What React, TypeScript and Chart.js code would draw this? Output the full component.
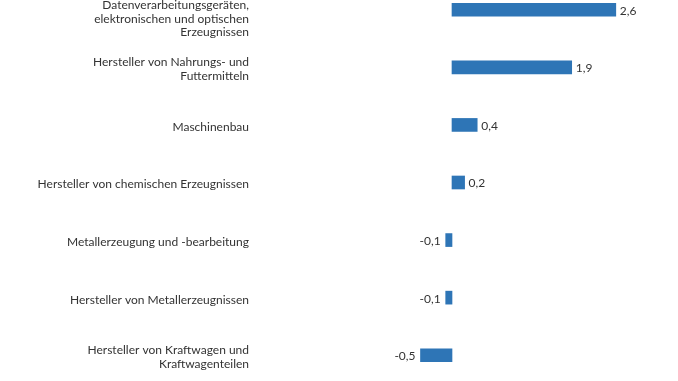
import React, { useEffect, useRef } from "react";
import { Chart, registerables } from "chart.js";

Chart.register(...registerables);

const categories: string[][] = [
  ["Hersteller von", "Datenverarbeitungsgeräten,", "elektronischen und optischen", "Erzeugnissen"],
  ["Hersteller von Nahrungs- und", "Futtermitteln"],
  ["Maschinenbau"],
  ["Hersteller von chemischen Erzeugnissen"],
  ["Metallerzeugung und -bearbeitung"],
  ["Hersteller von Metallerzeugnissen"],
  ["Hersteller von Kraftwagen und", "Kraftwagenteilen"],
];

const values: number[] = [2.6, 1.9, 0.4, 0.2, -0.1, -0.1, -0.5];

const FONT = "Lato, 'Noto Sans', sans-serif";
const TEXT_COLOR = "#333333";
const BAR_COLOR = "#2E75B6";

const valueLabels = {
  id: "valueLabels",
  afterDatasetsDraw(chart: any) {
    const ctx = chart.ctx;
    const meta = chart.getDatasetMeta(0);
    ctx.save();
    ctx.font = `12px ${FONT}`;
    ctx.fillStyle = TEXT_COLOR;
    ctx.textBaseline = "middle";
    meta.data.forEach((bar: any, i: number) => {
      const v = values[i];
      const txt = v.toFixed(1).replace(".", ",");
      if (v >= 0) {
        ctx.textAlign = "left";
        ctx.fillText(txt, bar.x + 4, bar.y + 1);
      } else {
        ctx.textAlign = "right";
        ctx.fillText(txt, bar.x - 5, bar.y + 1);
      }
    });
    ctx.restore();
  },
};

export default function App() {
  const ref = useRef<HTMLCanvasElement | null>(null);
  useEffect(() => {
    if (!ref.current) return;
    const chart = new Chart(ref.current, {
      type: "bar",
      data: {
        labels: categories,
        datasets: [
          {
            data: values,
            backgroundColor: BAR_COLOR,
            barThickness: 13,
          },
        ],
      },
      options: {
        indexAxis: "y",
        responsive: false,
        animation: false,
        maintainAspectRatio: false,
        layout: { padding: { left: 0, right: 37, top: 0, bottom: 0 } },
        plugins: {
          legend: { display: false },
          tooltip: { enabled: false },
        },
        scales: {
          x: {
            display: false,
            min: -3,
            max: 3,
          },
          y: {
            afterFit: (scale: any) => {
              scale.width = 263;
              scale.paddingTop = 0;
              scale.paddingBottom = 0;
            },
            grid: { display: false, drawTicks: false },
            border: { display: false },
            ticks: {
              padding: 14,
              labelOffset: 2,
              color: TEXT_COLOR,
              font: { family: FONT, size: 12, lineHeight: 1.15 },
              autoSkip: false,
            },
          },
        },
      },
      plugins: [valueLabels],
    });
    return () => chart.destroy();
  }, []);
  return (
    <div style={{ position: "fixed", left: 0, top: -19, width: 678, height: 403, background: "#fff" }}>
      <canvas ref={ref} width={678} height={403} style={{ display: "block" }} />
    </div>
  );
}
